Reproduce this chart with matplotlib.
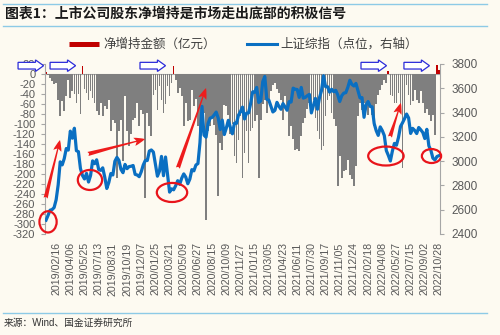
import numpy as np
import matplotlib.pyplot as plt
from matplotlib.lines import Line2D
from matplotlib.patches import Ellipse, FancyArrow

plt.rcParams['font.family'] = ['Liberation Sans', 'Noto Sans CJK SC', 'DejaVu Sans']
plt.rcParams['axes.unicode_minus'] = False

# ---------- data (weekly) ----------
# net increase of holdings by listed-company shareholders, 100m yuan
net_buy = [
    4, -3, -8, -15, -20, -18, -52, -85, -55, -75, -45, -12, -48, -35, -40, -59, -40, -80, 15,
    -30, -39, -52, -35, -48, -59, -75, -82, -59, -85, -65, -70, -52, -115, -92, -99, -209, -115,
    -92, -175, -45, -115, -145, -120, -92, -89, -59, -105, -72, -80, -249, -79, -105, -125, -42,
    -32, -72, -25, -52, -79, -60, -25, -45, -18,
    15,
    -12, -39, -29, -45, -105, -59, -95, -92, -32, -65, -50, -105, -119, -89, -79, -292, -115, -105,
    -85, -102, -122, -245, -139, -152, -62, -65, -82, -120, -100, -165, -179, -132, -85, -209,
    -159, -115,
    -179, -115, -109, -95, -82, -209, -92, -60, -52, -79, -59, -35, -22, -19, -30, -39, -52, -92,
    -45, -69,
    -125, -105, -130, -152, -150, -155, -125, -99, -89, -70, -59, -65, -52, -89, -115, -130, -152,
    -145, -85, -52, -45, -79, -90, -105, -225, -165, -209, -195, -192, -172, -202, -210, -225, -185,
    -85, -59, -72, -59, -70, -82, -62, -82, -105, -60, -42, -32, -22, -12, -19,
    6,
    -42, -45, -59, -59, -39, -65, -189, -85, -22, -42, -62, -55, -32, -52, -59, -35, -59, -79, -70,
    -82, -95, -82, -122, 18, 8,
]

# Shanghai Composite, weekly close (right axis)
sse = [
    2514, 2553, 2596, 2601, 2618,
    2682, 2804, 2994, 2969, 3021, 3104, 3091,
    3247, 3189, 3271, 3086, 3078, 2939, 2882,
    2853, 2899, 2828, 2882, 3002, 2979, 3011,
    2931, 2924, 2945, 2868, 2775, 2824, 2898,
    2886, 2999, 3031, 3006, 2932, 2905, 2973,
    2938, 2955, 2958, 2964, 2891, 2886, 2872,
    2912, 2968, 3005, 3005, 3083, 3092, 3075,
    2977, 2876, 2917, 3039, 2880, 3034, 2887,
    2745, 2772, 2764, 2797, 2839, 2809, 2860,
    2895, 2868, 2814, 2852, 2930, 2920, 2968,
    2980, 3152, 3451, 3214, 3197, 3310, 3354,
    3360, 3380, 3404, 3355, 3260, 3338, 3219,
    3272, 3336, 3278, 3225, 3312, 3310, 3378,
    3408, 3445, 3347, 3395, 3397, 3473, 3570,
    3566, 3607, 3483, 3496, 3655, 3697, 3509,
    3502, 3454, 3405, 3418, 3484, 3451, 3427,
    3474, 3447, 3419, 3490, 3487, 3601, 3592,
    3590, 3525, 3607, 3519, 3525, 3539, 3550,
    3397, 3458, 3517, 3427, 3522, 3581, 3703,
    3613, 3613, 3568, 3592, 3572, 3583, 3547,
    3491, 3539, 3560, 3564, 3608, 3666, 3632,
    3619, 3640, 3580, 3521, 3523, 3361, 3462,
    3491, 3451, 3447, 3310, 3251, 3212, 3282,
    3252, 3211, 3087, 3047, 3001, 3084, 3146,
    3131, 3195, 3285, 3316, 3350, 3388, 3356,
    3228, 3270, 3253, 3227, 3277, 3258, 3236,
    3186, 3262, 3126, 3089, 3024, 3010, 3038,
    3045,
]

tick_labels = [
    '2019/02/16', '2019/04/06', '2019/05/25', '2019/07/13', '2019/08/31', '2019/10/19',
    '2019/12/07', '2020/01/25', '2020/03/21', '2020/05/09', '2020/06/27', '2020/08/15',
    '2020/10/09', '2020/11/27', '2021/01/15', '2021/03/05', '2021/04/23', '2021/06/11',
    '2021/07/30', '2021/09/17', '2021/11/05', '2021/12/24', '2022/02/18', '2022/04/08',
    '2022/05/27', '2022/07/15', '2022/09/02', '2022/10/28',
]

# annotations drawn by the analyst: (x index, index level, width, height)
circles = [(1.0, 2500, 8.5, 175), (21.7, 2845, 12, 165), (62.2, 2742, 15, 157),
           (167.8, 3042, 17.5, 156), (190.3, 3042, 9.5, 115)]
red_arrows = [((-0.2, 2696), (6.9, 3174)), ((20.7, 3059), (48.9, 3182)),
              ((65.1, 2943), (79.0, 3602)), ((169.8, 3199), (175.2, 3479))]
blue_arrows = [-13.8, 2.0, 46.4, 155.5, 176.7]

BG = '#fdfaf1'
GRAY = '#a6a6a6'
TXT = '#595959'
RED = '#c00000'
BLUE = '#0a6fc2'

n = len(net_buy)
assert n == len(sse)
x = np.arange(n)

fig = plt.figure(figsize=(5, 3.35), dpi=100, facecolor=BG)
ax = fig.add_axes([0.09, 0.3015, 0.79, 0.5075])
ax.set_facecolor(BG)

colors = [RED if v > 0 else '#7f7f7f' for v in net_buy]
ax.bar(x, net_buy, width=0.85, color=colors, linewidth=0, zorder=2)
ax.axhline(0, color=GRAY, lw=0.8, zorder=1)
ax.set_xlim(-0.5, n - 0.5)
ax.set_ylim(-320, 20)
ax.set_yticks(np.arange(-320, 21, 20))
ax.set_xticks(np.arange(5, n, 7))
ax.set_xticklabels(tick_labels, rotation=90)
ax.tick_params(axis='y', direction='out', length=3, color=GRAY, labelsize=8,
               labelcolor=TXT, pad=4)
ax.tick_params(axis='x', length=0, labelsize=7.7, labelcolor=TXT, pad=6)
for s in ['top', 'bottom', 'right']:
    ax.spines[s].set_visible(False)
ax.spines['left'].set_color(GRAY)

ax2 = ax.twinx()
ax2.plot(x, sse, color=BLUE, lw=2.3, zorder=3, solid_joinstyle='round')
ax2.set_ylim(2400, 3800)
ax2.set_yticks(np.arange(2400, 3801, 200))
ax2.tick_params(axis='y', direction='out', length=3, color=GRAY, labelsize=8.5,
                labelcolor=TXT, pad=5)
for s in ['top', 'bottom', 'left']:
    ax2.spines[s].set_visible(False)
ax2.spines['right'].set_color(GRAY)

# analyst marks
for cx, cy, w, h in circles:
    ax2.add_patch(Ellipse((cx, cy), w, h, fill=False, edgecolor='#e8141b', lw=1.6,
                          clip_on=False, zorder=5))
for tail, head in red_arrows:
    ax2.annotate('', xy=head, xytext=tail, annotation_clip=False,
                 arrowprops=dict(arrowstyle='fancy,head_length=0.8,head_width=0.6,tail_width=0.3',
                                 color='#ee1c1c', lw=0, shrinkA=0, shrinkB=0), zorder=5)
for bx in blue_arrows:
    ax2.add_patch(FancyArrow(bx, 3786, 12.6, 0, width=55, head_width=95, head_length=4,
                             length_includes_head=True, facecolor='white',
                             edgecolor='#2b2bd9', lw=0.9, clip_on=False, zorder=6))

handles = [Line2D([], [], color=RED, lw=3.6, solid_capstyle='butt'),
           Line2D([], [], color=BLUE, lw=2.2)]
leg = fig.legend(handles, ['净增持金额（亿元）', '上证综指（点位，右轴）'], loc='center',
                 bbox_to_anchor=(0.487, 0.866), ncol=2, frameon=False, fontsize=9,
                 handlelength=2.4, columnspacing=2.5, handletextpad=0.3)
for t in leg.get_texts():
    t.set_color('#404040')

# header / footer
fig.text(0.01, 1 - 14 / 335, '图表1：上市公司股东净增持是市场走出底部的积极信号', fontsize=10,
         fontweight='bold', style='italic', family=['Noto Sans CJK SC'], va='center',
         color='#1a1a1a')
for yy in [4, 26, 313]:
    fig.add_artist(Line2D([0.006, 0.974], [1 - yy / 335] * 2, color='#8dcae6', lw=1.0))
fig.text(0.008, 1 - 323 / 335, '来源：Wind、国金证券研究所', fontsize=7, color='#333333',
         va='center')

fig.savefig('out.png', dpi=100, facecolor=BG)
